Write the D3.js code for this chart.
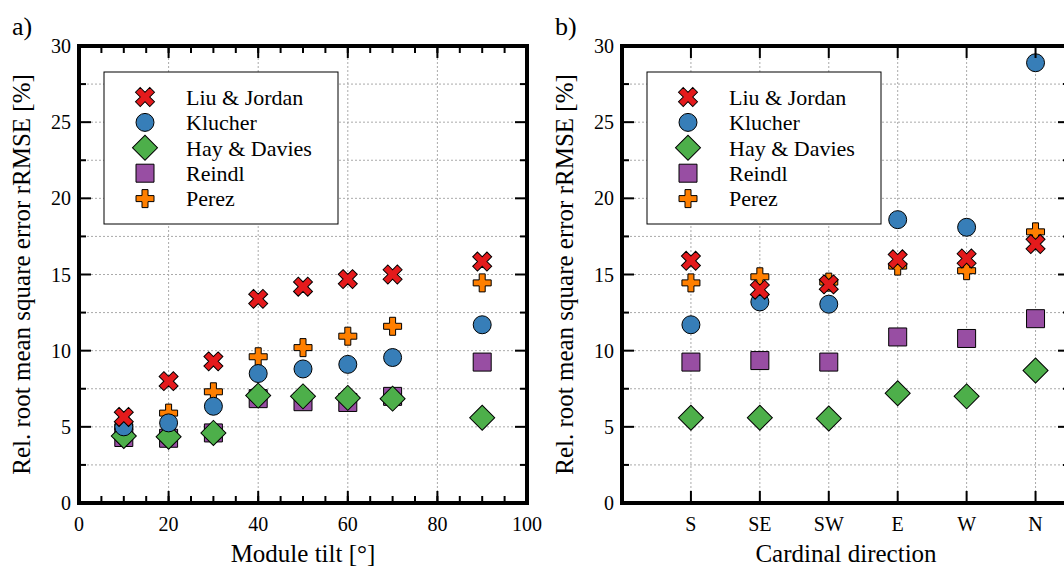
<!DOCTYPE html>
<html>
<head>
<meta charset="utf-8">
<script src="https://cdn.jsdelivr.net/npm/d3@7"></script>
<style>
  body { margin: 0; background: #fff; }
  svg { display: block; font-family: "Liberation Serif", "Times New Roman", serif; }
</style>
</head>
<body>
<div id="chart"></div>
<script>
// Series names and marker colours
var seriesNames = ["Liu & Jordan", "Klucher", "Hay & Davies", "Reindl", "Perez"];
var seriesColors = ["#e41a1c", "#377eb8", "#4daf4a", "#984ea3", "#ff7f00"];

// a) module tilt
var tilts = [10, 20, 30, 40, 50, 60, 70, 90];
var tiltLiu = [5.65, 8.0, 9.3, 13.4, 14.2, 14.7, 15.0, 15.85];
var tiltKlucher = [5.0, 5.26, 6.35, 8.5, 8.8, 9.1, 9.55, 11.7];
var tiltHay = [4.4, 4.35, 4.6, 7.05, 7.0, 6.9, 6.85, 5.6];
var tiltReindl = [4.3, 4.25, 4.6, 6.85, 6.65, 6.6, 7.0, 9.25];
var tiltPerez = [5.0, 5.9, 7.3, 9.6, 10.2, 10.95, 11.6, 14.45];

// b) cardinal direction
var directions = ["S", "SE", "SW", "E", "W", "N"];
var dirLiu = [15.9, 14.0, 14.35, 16.0, 16.05, 17.0];
var dirKlucher = [11.7, 13.2, 13.05, 18.6, 18.1, 28.9];
var dirHay = [5.6, 5.6, 5.55, 7.2, 7.0, 8.7];
var dirReindl = [9.25, 9.35, 9.25, 10.9, 10.8, 12.1];
var dirPerez = [14.45, 14.85, 14.5, 15.55, 15.25, 17.8];

var yTicksMajor = [0, 5, 10, 15, 20, 25, 30];

var W = 1064, H = 569;
var svg = d3.select('#chart').append('svg').attr('width', W).attr('height', H);

// marker shapes, one per series
var shapes = [
    {type: d3.symbolCross, size: 225, rot: 45},
    {type: d3.symbolCircle, size: 254, rot: 0},
    {type: d3.symbolSquare, size: 313, rot: 45},
    {type: d3.symbolSquare, size: 324, rot: 0},
    {type: d3.symbolCross, size: 180, rot: 0}
];

function marker(sel, k) {
    sel.append('path')
        .attr('d', d3.symbol().type(shapes[k].type).size(shapes[k].size)())
        .attr('transform', function(d) {
            return 'translate(' + d.x + ',' + d.y + ') rotate(' + shapes[k].rot + ')';
        })
        .attr('fill', seriesColors[k])
        .attr('stroke', '#000')
        .attr('stroke-width', 1);
}

function panel(opt) {
    var x0 = opt.left, x1 = opt.left + 448, y0 = 46, y1 = 503;
    var x = d3.scaleLinear().domain(opt.xDomain).range([x0, x1]);
    var y = d3.scaleLinear().domain([0, 30]).range([y1, y0]);
    var g = svg.append('g');

    // dotted grid
    var grid = g.append('g').attr('stroke', '#aaa').attr('stroke-width', 1).attr('stroke-dasharray', '2,2');
    grid.selectAll('.hg').data(d3.range(2.5, 30, 2.5)).enter().append('line')
        .attr('x1', x0).attr('x2', x1).attr('y1', function(d) {return y(d);}).attr('y2', function(d) {return y(d);});
    grid.selectAll('.vg').data(opt.vGrid).enter().append('line')
        .attr('y1', y0).attr('y2', y1).attr('x1', function(d) {return x(d);}).attr('x2', function(d) {return x(d);});

    // points, drawn last series first so Liu & Jordan sits on top
    for (var k = 4; k >= 0; k--) {
        var pts = opt.xs.map(function(v, i) {return {x: x(v), y: y(opt.series[k][i])};});
        var pg = g.append('g').selectAll('g').data(pts).enter().append('g');
        marker(pg, k);
    }

    // inward ticks on all four sides
    var ticks = g.append('g').attr('stroke', '#000').attr('stroke-width', 2);
    function tickRow(vals, len, horiz) {
        vals.forEach(function(v) {
            if (horiz) {
                ticks.append('line').attr('x1', x(v)).attr('x2', x(v)).attr('y1', y1).attr('y2', y1 - len);
                ticks.append('line').attr('x1', x(v)).attr('x2', x(v)).attr('y1', y0).attr('y2', y0 + len);
            } else {
                ticks.append('line').attr('y1', y(v)).attr('y2', y(v)).attr('x1', x0).attr('x2', x0 + len);
                ticks.append('line').attr('y1', y(v)).attr('y2', y(v)).attr('x1', x1).attr('x2', x1 - len);
            }
        });
    }
    tickRow(opt.xMinor, 7, true);
    tickRow(opt.xMajor, 12, true);
    tickRow(d3.range(2.5, 30, 5), 7, false);
    tickRow(yTicksMajor, 12, false);

    // frame
    g.append('rect').attr('x', x0).attr('y', y0).attr('width', x1 - x0).attr('height', y1 - y0)
        .attr('fill', 'none').attr('stroke', '#000').attr('stroke-width', 4);

    // tick labels
    g.append('g').selectAll('text').data(yTicksMajor).enter().append('text')
        .attr('x', x0 - 8).attr('y', function(d) {return y(d);}).attr('dy', '0.35em')
        .attr('text-anchor', 'end').attr('font-size', 20).text(function(d) {return d;});
    g.append('g').selectAll('text').data(opt.xMajor).enter().append('text')
        .attr('x', function(d) {return x(d);}).attr('y', y1 + 28)
        .attr('text-anchor', 'middle').attr('font-size', 20).text(opt.xFormat);

    // axis titles
    g.append('text').attr('x', (x0 + x1) / 2).attr('y', 562).attr('text-anchor', 'middle')
        .attr('font-size', 25).text(opt.xTitle);
    g.append('text').attr('transform', 'translate(' + (x0 - 49) + ',' + ((y0 + y1) / 2) + ') rotate(-90)')
        .attr('text-anchor', 'middle').attr('font-size', 25).text('Rel. root mean square error rRMSE [%]');
    g.append('text').attr('x', x0 - 67).attr('y', 35).attr('font-size', 26).text(opt.tag);

    // legend
    var lx = x0 + 25, ly = y0 + 26;
    var lg = g.append('g');
    lg.append('rect').attr('x', lx).attr('y', ly).attr('width', 234).attr('height', 152)
        .attr('fill', '#fff').attr('stroke', '#000').attr('stroke-width', 1);
    seriesNames.forEach(function(name, k) {
        var ry = ly + 25 + k * 25.4;
        marker(lg.append('g').datum({x: lx + 41, y: ry}), k);
        lg.append('text').attr('x', lx + 82).attr('y', ry).attr('dy', '0.35em')
            .attr('font-size', 22).text(name);
    });
}

panel({
    left: 79, tag: 'a)', xTitle: 'Module tilt [°]',
    xDomain: [0, 100], xs: tilts,
    series: [tiltLiu, tiltKlucher, tiltHay, tiltReindl, tiltPerez],
    vGrid: [20, 40, 60, 80],
    xMajor: [0, 20, 40, 60, 80, 100],
    xMinor: d3.range(5, 100, 5),
    xFormat: function(d) {return d;}
});

panel({
    left: 622, tag: 'b)', xTitle: 'Cardinal direction',
    xDomain: [0, 6.5], xs: directions.map(function(d, i) {return i + 1;}),
    series: [dirLiu, dirKlucher, dirHay, dirReindl, dirPerez],
    vGrid: [1, 2, 3, 4, 5, 6],
    xMajor: [1, 2, 3, 4, 5, 6],
    xMinor: [],
    xFormat: function(d) {return directions[d - 1];}
});
</script>
</body>
</html>
